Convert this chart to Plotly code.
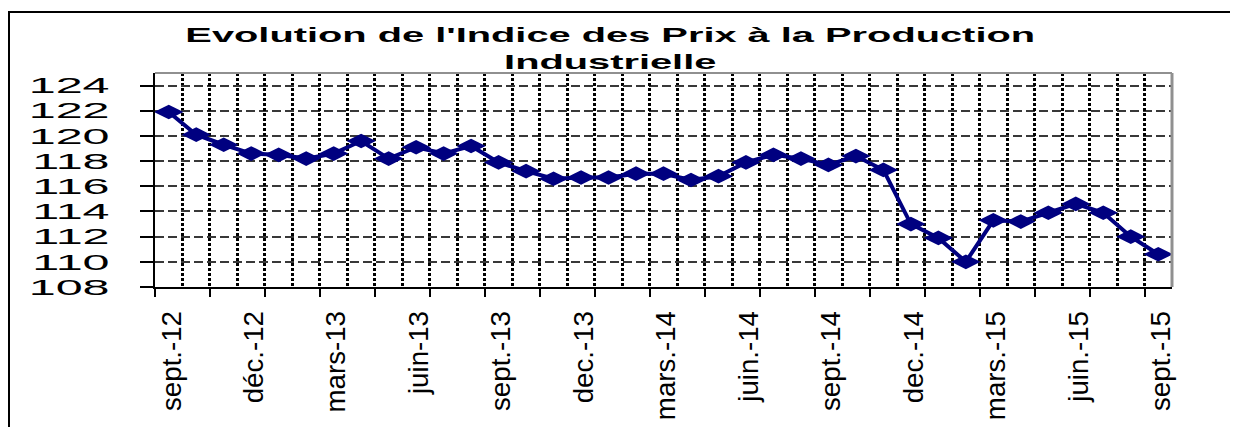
import plotly.graph_objects as go

months = [
    "sept.-12", "oct.-12", "nov.-12", "déc.-12", "janv.-13", "févr.-13", "mars-13", "avr.-13", "mai-13",
    "juin-13", "juil.-13", "août-13", "sept.-13", "oct.-13", "nov.-13", "dec.-13", "janv.-14", "févr.-14",
    "mars.-14", "avr.-14", "mai-14", "juin.-14", "juil.-14", "août-14", "sept.-14", "oct.-14", "nov.-14",
    "dec.-14", "janv.-15", "févr.-15", "mars.-15", "avr.-15", "mai-15", "juin.-15", "juil.-15", "août-15",
    "sept.-15",
]
ipi = [
    121.9, 120.1, 119.3, 118.6, 118.5, 118.2, 118.6, 119.6, 118.2, 119.1, 118.6, 119.2,
    117.9, 117.2, 116.6, 116.7, 116.7, 117.0, 117.0, 116.5, 116.8, 117.9, 118.5, 118.2,
    117.7, 118.4, 117.3, 113.0, 111.9, 110.0, 113.3, 113.2, 113.9, 114.6, 113.9, 112.0,
    110.6,
]
label_step = 3
y_ticks = list(range(108, 125, 2))
title_text = "Evolution de l'Indice des Prix à la Production<br>Industrielle"

idx = list(range(len(months)))
label_idx = idx[::label_step]
label_txt = [months[i] for i in label_idx]

# page offset (body margin of 8px) compensated in the layout
W, H = 1230, 419
PL, PR, PT, PB = 155, 1172, 73, 287   # plot area in page pixels
OFF = 8
pw, ph = PR - PL, PB - PT


def px_x(p):
    return (p - PL) / pw


def px_y(p):
    return (PB - p) / ph


navy = "#000080"
fig = go.Figure()
fig.add_trace(go.Scatter(
    x=idx, y=ipi, mode="lines+markers",
    line=dict(color=navy, width=4),
    marker=dict(symbol="diamond-wide", size=21, color=navy, line=dict(width=0)),
    hoverinfo="skip", showlegend=False,
))
# invisible copy on the grid axis so that it is drawn
fig.add_trace(go.Scatter(
    x=idx, y=ipi, mode="markers", xaxis="x2",
    marker=dict(opacity=0), hoverinfo="skip", showlegend=False,
))

xr = [-0.5, len(months) - 0.5]
fig.update_layout(
    width=W, height=H,
    margin=dict(l=PL - OFF, r=W - (PR - OFF), t=PT - OFF, b=H - (PB - OFF), pad=0,
                autoexpand=False),
    paper_bgcolor="white", plot_bgcolor="white",
    xaxis=dict(
        range=xr, tickmode="array", tickvals=label_idx, ticktext=label_txt,
        tickangle=-90, ticks="", showgrid=False, zeroline=False, automargin=False,
        showline=True, linecolor="black", linewidth=2,
        tickfont=dict(family="Liberation Sans", size=27, color="black"),
        ticklabelstandoff=14,
    ),
    xaxis2=dict(
        range=xr, overlaying="x", anchor="y", side="bottom", automargin=False,
        tickmode="linear", tick0=-0.5, dtick=2,
        ticks="outside", ticklen=9, tickwidth=2, tickcolor="black",
        showticklabels=False, zeroline=False, showline=False,
        showgrid=True, gridcolor="black", gridwidth=2.5, griddash="3px,2px",
        minor=dict(tick0=-0.5, dtick=1, showgrid=True, gridcolor="black",
                   gridwidth=2.5, griddash="3px,2px", ticks=""),
    ),
    yaxis=dict(
        range=[108, 125], tickmode="array", tickvals=y_ticks, automargin=False,
        ticks="outside", ticklen=13, tickwidth=2, tickcolor="black",
        showline=True, linecolor="black", linewidth=2, zeroline=False,
        showgrid=True, gridcolor="#383838", gridwidth=1.5, griddash="9px,4px",
        tickfont=dict(family="Liberation Sans", size=22, color="black"),
        ticklabelstandoff=26,
    ),
    annotations=[dict(
        text=title_text, showarrow=False,
        xref="paper", yref="paper", x=px_x(610), y=px_y(48),
        xanchor="center", yanchor="middle",
        font=dict(family="Liberation Sans", size=21, color="black", weight="bold"),
    )],
    shapes=[
        dict(type="line", xref="paper", yref="paper", x0=0, x1=1, y0=1, y1=1,
             line=dict(color="#909090", width=2)),
        dict(type="line", xref="paper", yref="paper", x0=1, x1=1, y0=0, y1=1,
             line=dict(color="#909090", width=3)),
        dict(type="rect", xref="paper", yref="paper",
             x0=px_x(9), x1=px_x(1260), y0=px_y(450), y1=px_y(12),
             line=dict(color="black", width=2)),
    ],
)

post = """
try {
  var gd = document.getElementById('{plot_id}');
  function stretch(el, s, mode, dx) {
    var bb = el.getBBox();
    var c = mode === 'right' ? bb.x + bb.width : bb.x + bb.width / 2;
    var t = el.getAttribute('transform') || '';
    el.setAttribute('transform', t + ' translate(' + c + ',0) scale(' + s + ',1) translate(' + (-c) + ',0)');
  }
  function group(sel, target, mode) {
    var els = gd.querySelectorAll(sel);
    if (!els.length) return [];
    var s = target / els[0].getBBox().width;
    els.forEach(function (e) { stretch(e, s, mode); });
    return els;
  }
  group('g.ytick text', 81, 'right');
  group('text.annotation-text', 850, 'center');
  var xl = group('g.xtick text', 100, 'right');
  xl.forEach(function (e) {
    var r = e.getBoundingClientRect();
    var dy = 311 - r.top;
    var t = e.getAttribute('transform') || '';
    e.setAttribute('transform', 'translate(3,' + dy + ') ' + t);
  });
} catch (e) {}
"""
fig.write_html("out.html", post_script=post)
